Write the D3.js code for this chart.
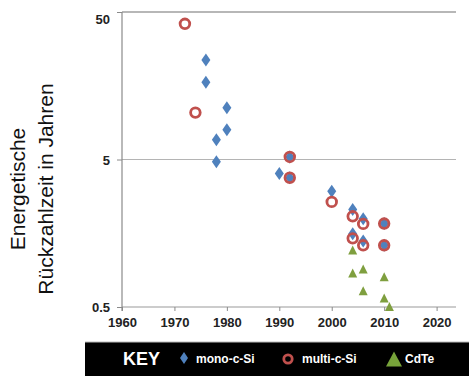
<!DOCTYPE html>
<html>
<head>
<meta charset="utf-8">
<script src="https://cdn.jsdelivr.net/npm/d3@7"></script>
<style>
  body { margin: 0; background: #fff; }
  svg { display: block; }
</style>
</head>
<body>
<svg id="chart" width="469" height="376"></svg>
<script>
// values
const monoYear = [1976, 1976, 1980, 1980, 1978, 1978, 1990, 1992, 1992, 2000, 2004, 2004, 2006, 2006, 2010, 2010];
const monoVal  = [23.6, 16.7, 11.2, 7.95, 6.8, 4.82, 4.02, 5.2, 3.76, 3.05, 2.29, 1.57, 1.98, 1.40, 1.84, 1.31];

const multiYear = [1972, 1974, 1992, 1992, 2000, 2004, 2004, 2006, 2006, 2010, 2010];
const multiVal  = [41.6, 10.4, 5.2, 3.76, 2.58, 2.06, 1.46, 1.83, 1.31, 1.84, 1.31];

const cdteYear = [2004, 2004, 2006, 2006, 2010, 2010, 2011];
const cdteVal  = [1.21, 0.843, 0.898, 0.64, 0.796, 0.571, 0.5];

const xTicks = [1960, 1970, 1980, 1990, 2000, 2010, 2020];
const yTicks = [0.5, 5, 50];
const legendNames = ["mono-c-Si", "multi-c-Si", "CdTe"];

const blue = "#4f81bd", red = "#c0504d", green = "#7f9f3f";

const svg = d3.select("#chart");

var x = d3.scaleLinear().domain([1960, 2023.7]).range([122, 456]);
var y = d3.scaleLog().domain([0.5, 50]).range([307, 12]);

// gridlines
svg.append("g").selectAll("line")
    .data(yTicks)
    .enter().append("line")
    .attr("x1", x(1960)).attr("x2", 456)
    .attr("y1", d => y(d)).attr("y2", d => y(d))
    .attr("stroke", d => d == 50 ? "#707070" : (d == 5 ? "#b4b4b4" : "#9a9a9a"))
    .attr("stroke-width", 1.2);

// x axis
const xAxis = svg.append("g")
    .attr("transform", `translate(0, ${y(0.5)})`)
    .call(d3.axisBottom(x).tickValues(xTicks).tickFormat(d3.format("d")).tickSize(4).tickSizeOuter(0));
xAxis.select(".domain").remove();
xAxis.selectAll(".tick line").attr("stroke", "#8a8a8a");
xAxis.selectAll("text")
    .attr("dy", "0")
    .attr("y", 20)
    .style("font-family", "'Liberation Sans', Arial, sans-serif")
    .style("font-weight", "bold")
    .style("font-size", "13px")
    .attr("fill", "#222");

// y axis
const yAxis = svg.append("g")
    .attr("transform", `translate(${x(1960)}, 0)`)
    .call(d3.axisLeft(y).tickValues(yTicks).tickFormat(d => d).tickSize(5).tickSizeOuter(0));
yAxis.select(".domain").attr("stroke", "#8a8a8a").attr("stroke-width", 1.2)
    .attr("d", `M0,${y(50)}V${y(0.5) + 4}`);
yAxis.selectAll(".tick line").attr("stroke", "#8a8a8a");
yAxis.selectAll("text")
    .attr("x", -12)
    .attr("dy", d => d == 50 ? "0.85em" : "0.35em")
    .style("font-family", "'Liberation Sans', Arial, sans-serif")
    .style("font-weight", "bold")
    .style("font-size", "13px")
    .attr("fill", "#222");

// axis title
const title = svg.append("text")
    .attr("transform", "translate(25, 189) rotate(-90)")
    .attr("text-anchor", "middle")
    .style("font-family", "'Liberation Sans', Arial, sans-serif")
    .style("font-size", "21px")
    .attr("fill", "#111");
title.append("tspan").attr("x", 0).attr("y", 0).text("Energetische");
title.append("tspan").attr("x", 0).attr("y", 28).text("Rückzahlzeit in Jahren");

const diamond = "M0,-6.5L4.5,0L0,6.5L-4.5,0Z";
const tri = "M0,-5L4.5,4L-4.5,4Z";

// series
svg.append("g").selectAll("path")
    .data(d3.zip(monoYear, monoVal))
    .enter().append("path")
    .attr("d", diamond)
    .attr("transform", d => `translate(${x(d[0])}, ${y(d[1])})`)
    .attr("fill", blue);

svg.append("g").selectAll("circle")
    .data(d3.zip(multiYear, multiVal))
    .enter().append("circle")
    .attr("cx", d => x(d[0]))
    .attr("cy", d => y(d[1]))
    .attr("r", 4.8)
    .attr("fill", "none")
    .attr("stroke", red)
    .attr("stroke-width", 2.8);

svg.append("g").selectAll("path")
    .data(d3.zip(cdteYear, cdteVal))
    .enter().append("path")
    .attr("d", tri)
    .attr("transform", d => `translate(${x(d[0])}, ${y(d[1])})`)
    .attr("fill", green);

// key bar
const key = svg.append("g");
key.append("rect")
    .attr("x", 85).attr("y", 342).attr("width", 384).attr("height", 34)
    .attr("fill", "#000");
key.append("line")
    .attr("x1", 85).attr("x2", 469).attr("y1", 342).attr("y2", 342)
    .attr("stroke", "#bbb");
key.append("text")
    .attr("x", 123).attr("y", 365)
    .style("font-family", "'Liberation Sans', Arial, sans-serif")
    .style("font-weight", "bold")
    .style("font-size", "18px")
    .attr("fill", "#fff")
    .text("KEY");

key.append("path")
    .attr("d", "M0,-6L4,0L0,6L-4,0Z")
    .attr("transform", "translate(184, 358)")
    .attr("fill", blue);
key.append("circle")
    .attr("cx", 288).attr("cy", 359).attr("r", 4.2)
    .attr("fill", "none").attr("stroke", red).attr("stroke-width", 2.8);
key.append("path")
    .attr("d", "M0,-7.5L8,7.5L-8,7.5Z")
    .attr("transform", "translate(394, 359)")
    .attr("fill", "#77a33a");

key.selectAll("text.lbl")
    .data(legendNames)
    .enter().append("text")
    .attr("class", "lbl")
    .attr("x", (d, i) => [196, 302, 405][i])
    .attr("y", 363)
    .style("font-family", "'Liberation Sans', Arial, sans-serif")
    .style("font-weight", "bold")
    .style("font-size", "12px")
    .attr("fill", "#fff")
    .text(d => d);
</script>
</body>
</html>
